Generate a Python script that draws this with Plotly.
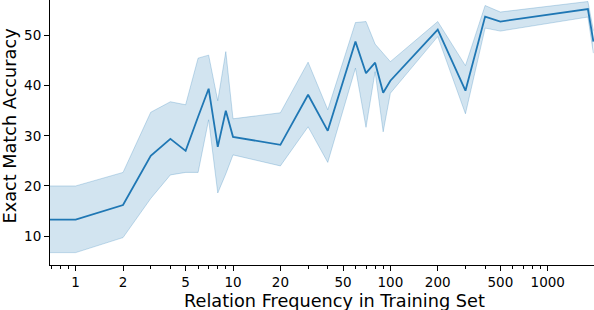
import plotly.graph_objects as go

# Relation frequency (x) and exact-match accuracy with CI band
freq = [0.5, 1, 2, 3, 4, 5, 6, 7, 8, 9, 10, 20, 30, 40, 60, 70, 80, 90, 100,
        200, 300, 400, 500, 1800, 1950]
acc = [13.3, 13.3, 16.2, 26.0, 29.4, 27.0, 33.8, 39.4, 27.8, 35.0, 29.8, 28.2,
       38.2, 31.0, 48.8, 42.5, 44.6, 38.6, 41.0, 51.2, 39.0, 53.8, 52.8, 55.3, 48.8]
ci_hi = [20.0, 20.0, 22.7, 34.7, 36.8, 36.2, 45.5, 46.1, 37.0, 46.8, 33.4, 34.6,
         44.7, 35.2, 52.6, 52.8, 48.3, 46.5, 44.8, 52.8, 44.0, 56.0, 54.7, 56.8, 51.0]
ci_lo = [6.7, 6.7, 9.7, 17.5, 22.2, 22.7, 22.7, 33.2, 18.6, 22.4, 26.2, 24.0,
         31.8, 24.7, 43.5, 31.7, 42.8, 30.8, 38.5, 49.8, 34.4, 51.5, 50.9, 53.7, 46.5]

x_tickvals = [1, 2, 5, 10, 20, 50, 100, 200, 500, 1000]
x_ticktext = ["1", "2", "5", "10", "20", "50", "100", "200", "500", "1000"]
x_minor = [0.6, 0.7, 0.8, 0.9, 3, 4, 6, 7, 8, 9, 30, 40, 60, 70, 80, 90,
           300, 400, 600, 700, 800, 900]
y_tickvals = [10, 20, 30, 40, 50]

x_title = "Relation Frequency in Training Set"
y_title = "Exact Match Accuracy"

blue = "#1f77b4"
band = "rgba(31,119,180,0.2)"
edge = "rgba(31,119,180,0.25)"

fig = go.Figure()
fig.add_trace(go.Scatter(x=freq, y=ci_hi, mode="lines",
                         line=dict(color=edge, width=1), hoverinfo="skip",
                         showlegend=False))
fig.add_trace(go.Scatter(x=freq, y=ci_lo, mode="lines", fill="tonexty",
                         fillcolor=band, line=dict(color=edge, width=1),
                         hoverinfo="skip", showlegend=False))
fig.add_trace(go.Scatter(x=freq, y=acc, mode="lines",
                         line=dict(color=blue, width=1.8), showlegend=False))

font = "DejaVu Sans, Liberation Sans, sans-serif"
fig.update_layout(
    width=594, height=310,
    margin=dict(l=50, r=0, t=0, b=45, autoexpand=False),
    paper_bgcolor="white", plot_bgcolor="white",
    font=dict(family=font, color="black", size=13.5),
)
fig.update_xaxes(
    type="log", range=[-0.163, 3.294], automargin=False,
    tickvals=x_tickvals, ticktext=x_ticktext,
    ticks="outside", ticklen=5, tickwidth=1, tickcolor="black",
    showline=True, linecolor="black", linewidth=1,
    showgrid=False, zeroline=False,
    minor=dict(tickvals=x_minor, ticks="outside", ticklen=3, tickwidth=0.8,
               tickcolor="black", showgrid=False),
)
fig.update_yaxes(
    range=[4.23, 57.1], automargin=False,
    tickvals=y_tickvals,
    ticks="outside", ticklen=5, tickwidth=1, tickcolor="black",
    showline=True, linecolor="black", linewidth=1,
    showgrid=False, zeroline=False,
)
fig.add_annotation(text=x_title, xref="paper", yref="paper", x=0.523, y=0,
                   xanchor="center", yanchor="top", yshift=-24,
                   showarrow=False, font=dict(size=17.7))
fig.add_annotation(text=y_title, xref="paper", yref="paper", x=0, y=0.5,
                   xanchor="center", yanchor="middle", xshift=-41, yshift=6,
                   textangle=-90, showarrow=False, font=dict(size=17.7))

fig.write_html("out.html",
               config={"displayModeBar": False},
               post_script="document.body.style.margin='0';"
                           "document.body.style.overflow='hidden';")
